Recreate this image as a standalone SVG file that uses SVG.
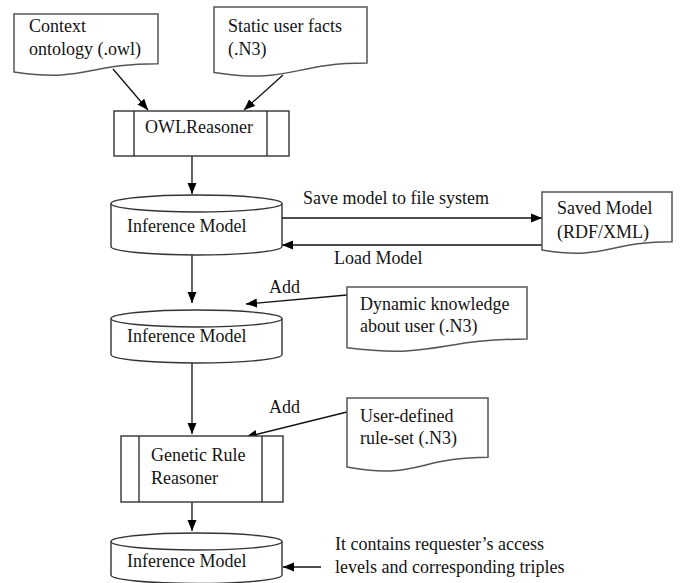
<svg xmlns="http://www.w3.org/2000/svg" width="687" height="583" viewBox="0 0 687 583">
<style>
  .shape { fill: #fff; stroke: #333; stroke-width: 1.4; }
  .doc { fill: #fff; stroke: #555; stroke-width: 1.5; }
  .edge { fill: none; stroke: #111; stroke-width: 1.3; }
  text { font-family: "Liberation Serif", "Times New Roman", serif; font-size: 18px; fill: #141414; }
</style>
<defs>
  <marker id="arrow" markerUnits="userSpaceOnUse" markerWidth="12" markerHeight="10" viewBox="0 0 12 10" refX="11" refY="5" orient="auto">
    <path d="M0,0.5 L11,5 L0,9.5 Z" fill="#000"/>
  </marker>
</defs>
<rect width="687" height="583" fill="#fff"/>

<g id="connectors">
  <line class="edge" x1="113" y1="69" x2="148" y2="110" marker-end="url(#arrow)"/>
  <line class="edge" x1="283" y1="75" x2="244" y2="110" marker-end="url(#arrow)"/>
  <line class="edge" x1="192" y1="156" x2="192" y2="194" marker-end="url(#arrow)"/>
  <line class="edge" x1="282" y1="218" x2="542" y2="218" marker-end="url(#arrow)"/>
  <line class="edge" x1="542" y1="245" x2="282" y2="245" marker-end="url(#arrow)"/>
  <line class="edge" x1="192" y1="255" x2="192" y2="303" marker-end="url(#arrow)"/>
  <line class="edge" x1="347" y1="295" x2="246" y2="304" marker-end="url(#arrow)"/>
  <line class="edge" x1="192" y1="363" x2="192" y2="434" marker-end="url(#arrow)"/>
  <line class="edge" x1="347" y1="412" x2="246" y2="437" marker-end="url(#arrow)"/>
  <line class="edge" x1="192" y1="502" x2="192" y2="531" marker-end="url(#arrow)"/>
  <line class="edge" x1="321" y1="567" x2="283" y2="567" marker-end="url(#arrow)"/>
  <text x="303" y="204">Save model to file system</text>
  <text x="334" y="264">Load Model</text>
  <text x="269" y="293" font-size="15">Add</text>
  <text x="269" y="413" font-size="15">Add</text>
</g>

<g id="context-ontology">
  <path class="doc" d="M14,14 H158 V63.7 C86,63.7 86,82.6 14,71.9 Z"/>
  <text x="29" y="32">Context</text>
  <text x="29" y="55">ontology (.owl)</text>
</g>

<g id="static-user-facts">
  <path class="doc" d="M214,7 H367 V63.1 C290.5,63.1 290.5,84.5 214,72.4 Z"/>
  <text x="228" y="32">Static user facts</text>
  <text x="228" y="55">(.N3)</text>
</g>

<g id="owl-reasoner">
  <rect class="shape" x="114" y="111" width="175" height="45"/>
  <line class="shape" x1="134" y1="111" x2="134" y2="156"/>
  <line class="shape" x1="267" y1="111" x2="267" y2="156"/>
  <text x="145" y="133">OWLReasoner</text>
</g>

<g id="inference-model-1">
  <path class="shape" d="M111,203.5 V246.5 A85.5,8.5 0 0 0 282,246.5 V203.5"/>
  <ellipse class="shape" cx="196.5" cy="203.5" rx="85.5" ry="8.5"/>
  <text x="127" y="232">Inference Model</text>
</g>

<g id="saved-model">
  <path class="doc" d="M542,192 H672 V241.7 C607,241.7 607,260.6 542,249.9 Z"/>
  <text x="557" y="214">Saved Model</text>
  <text x="557" y="238">(RDF/XML)</text>
</g>

<g id="inference-model-2">
  <path class="shape" d="M111,318.5 V354.5 A85.5,8.5 0 0 0 282,354.5 V318.5"/>
  <ellipse class="shape" cx="196.5" cy="318.5" rx="85.5" ry="8.5"/>
  <text x="127" y="342">Inference Model</text>
</g>

<g id="dynamic-knowledge">
  <path class="doc" d="M347,287 H527 V339.1 C437,339.1 437,359 347,347.7 Z"/>
  <text x="360" y="310">Dynamic knowledge</text>
  <text x="360" y="332">about user (.N3)</text>
</g>

<g id="genetic-rule-reasoner">
  <rect class="shape" x="121" y="436" width="162" height="66"/>
  <line class="shape" x1="139" y1="436" x2="139" y2="502"/>
  <line class="shape" x1="262" y1="436" x2="262" y2="502"/>
  <text x="151" y="461">Genetic Rule</text>
  <text x="151" y="484">Reasoner</text>
</g>

<g id="user-defined-rules">
  <path class="doc" d="M347,398 H488 V457.3 C417.5,457.3 417.5,479.9 347,467.1 Z"/>
  <text x="360" y="422">User-defined</text>
  <text x="360" y="444">rule-set (.N3)</text>
</g>

<g id="inference-model-3">
  <path class="shape" d="M111,541.5 V575 A85.5,8.5 0 0 0 282,575 V541.5"/>
  <ellipse class="shape" cx="196.5" cy="541.5" rx="85.5" ry="8.5"/>
  <text x="127" y="567">Inference Model</text>
</g>

<g id="note">
  <text x="335" y="550">It contains requester’s access</text>
  <text x="335" y="573">levels and corresponding triples</text>
</g>
</svg>
